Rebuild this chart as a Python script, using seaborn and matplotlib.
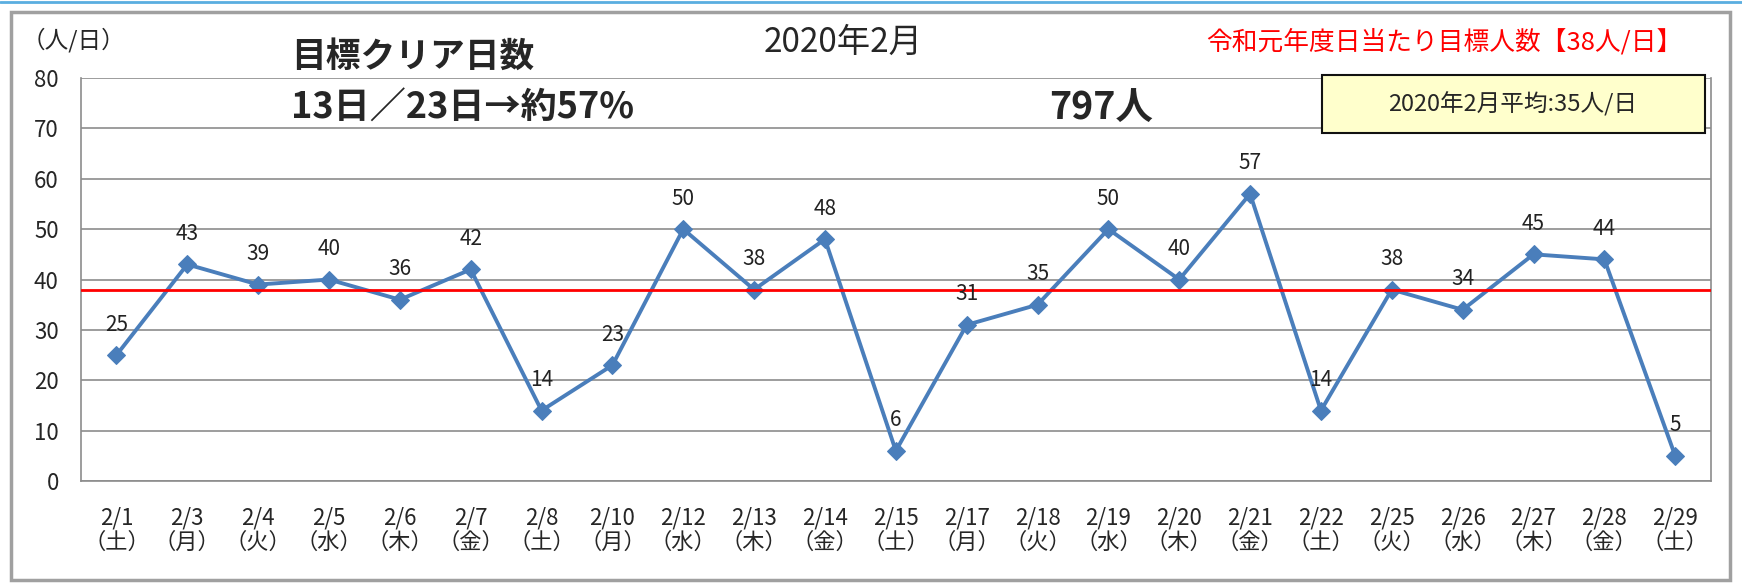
import numpy as np
import pandas as pd
import matplotlib
matplotlib.use("Agg")
import matplotlib.pyplot as plt
import seaborn as sns
from matplotlib.patches import Rectangle
from matplotlib.lines import Line2D

# data
dates = ["2/1", "2/3", "2/4", "2/5", "2/6", "2/7", "2/8", "2/10", "2/12", "2/13", "2/14", "2/15",
         "2/17", "2/18", "2/19", "2/20", "2/21", "2/22", "2/25", "2/26", "2/27", "2/28", "2/29"]
weekdays = ["土", "月", "火", "水", "木", "金", "土", "月", "水", "木", "金", "土",
            "月", "火", "水", "木", "金", "土", "火", "水", "木", "金", "土"]
visitors = [25, 43, 39, 40, 36, 42, 14, 23, 50, 38, 48, 6,
            31, 35, 50, 40, 57, 14, 38, 34, 45, 44, 5]
target = 38
y_ticks = [0, 10, 20, 30, 40, 50, 60, 70, 80]

sns.set_theme(style="white")
plt.rcParams["font.family"] = ["Noto Sans CJK JP", "DejaVu Sans"]

df = pd.DataFrame({"pos": np.arange(len(dates)), "visitors": visitors})

fig = plt.figure(figsize=(17.42, 5.86), dpi=100)
ax = fig.add_axes([0.0465, 0.179, 0.9355, 0.688])

ax.set_ylim(0, 80)
ax.set_xlim(-0.5, len(dates) - 0.5)
ax.set_yticks(y_ticks)
for y in y_ticks:
    ax.axhline(y, color="#8c8c8c", lw=1.2, zorder=1)

sns.lineplot(data=df, x="pos", y="visitors", ax=ax, color="#4a7ebb", lw=2.8,
             marker="D", markersize=9, markeredgecolor="#4a7ebb", zorder=3)
ax.axhline(target, color="#ff0000", lw=2, zorder=4)

for i, v in enumerate(visitors):
    ax.annotate(str(v), (i, v), xytext=(0, 14), textcoords="offset points",
                ha="center", va="bottom", fontsize=15, color="#222222", zorder=5)

ax.set_xticks(np.arange(len(dates)))
ax.set_xticklabels([f"{d}\n（{w}）" for d, w in zip(dates, weekdays)], fontsize=16, linespacing=1.12)
ax.set_xticks(np.arange(len(dates)) - 0.5, minor=True)
ax.tick_params(axis="x", which="major", length=0, pad=18)
ax.tick_params(axis="x", which="minor", length=7, width=1.2, color="#8c8c8c", direction="in")
ax.tick_params(axis="y", length=0, pad=16, labelsize=16)
ax.set_xlabel("")
ax.set_ylabel("")
for s in ax.spines.values():
    s.set_color("#8c8c8c")
    s.set_linewidth(1.2)
    s.set_visible(True)
ax.spines["top"].set_visible(False)

# outer frame like the spreadsheet chart area
fig.add_artist(Rectangle((11 / 1742, 6 / 586), 1719 / 1742, 568 / 586, transform=fig.transFigure,
                         fill=False, edgecolor="#a0a0a0", lw=2.5))
fig.add_artist(Line2D([0, 1], [0.997, 0.997], transform=fig.transFigure, color="#5aaee0", lw=2))

fig.text(22 / 1742, 1 - 40 / 586, "（人/日）", fontsize=17, va="center", ha="left")
fig.text(291 / 1742, 1 - 56 / 586, "目標クリア日数", fontsize=25, fontweight="bold", va="center", ha="left")
fig.text(291 / 1742, 1 - 108 / 586, "13日／23日→約57%", fontsize=26, fontweight="bold", va="center", ha="left")
fig.text(843 / 1742, 1 - 42 / 586, "2020年2月", fontsize=24, va="center", ha="center")
fig.text(1101 / 1742, 1 - 108 / 586, "797人", fontsize=27, fontweight="bold", va="center", ha="center")
fig.text(1682 / 1742, 1 - 42 / 586, "令和元年度日当たり目標人数【38人/日】", fontsize=18.5, color="#ff0000",
         va="center", ha="right")
fig.add_artist(Rectangle((1322 / 1742, 1 - 133 / 586), 383 / 1742, 58 / 586, transform=fig.transFigure,
                         facecolor="#ffffcc", edgecolor="#111111", lw=1.5, zorder=6))
fig.text(1513 / 1742, 1 - 104 / 586, "2020年2月平均:35人/日", fontsize=17, va="center", ha="center", zorder=7)

fig.savefig("out.png", dpi=100, facecolor="white")
